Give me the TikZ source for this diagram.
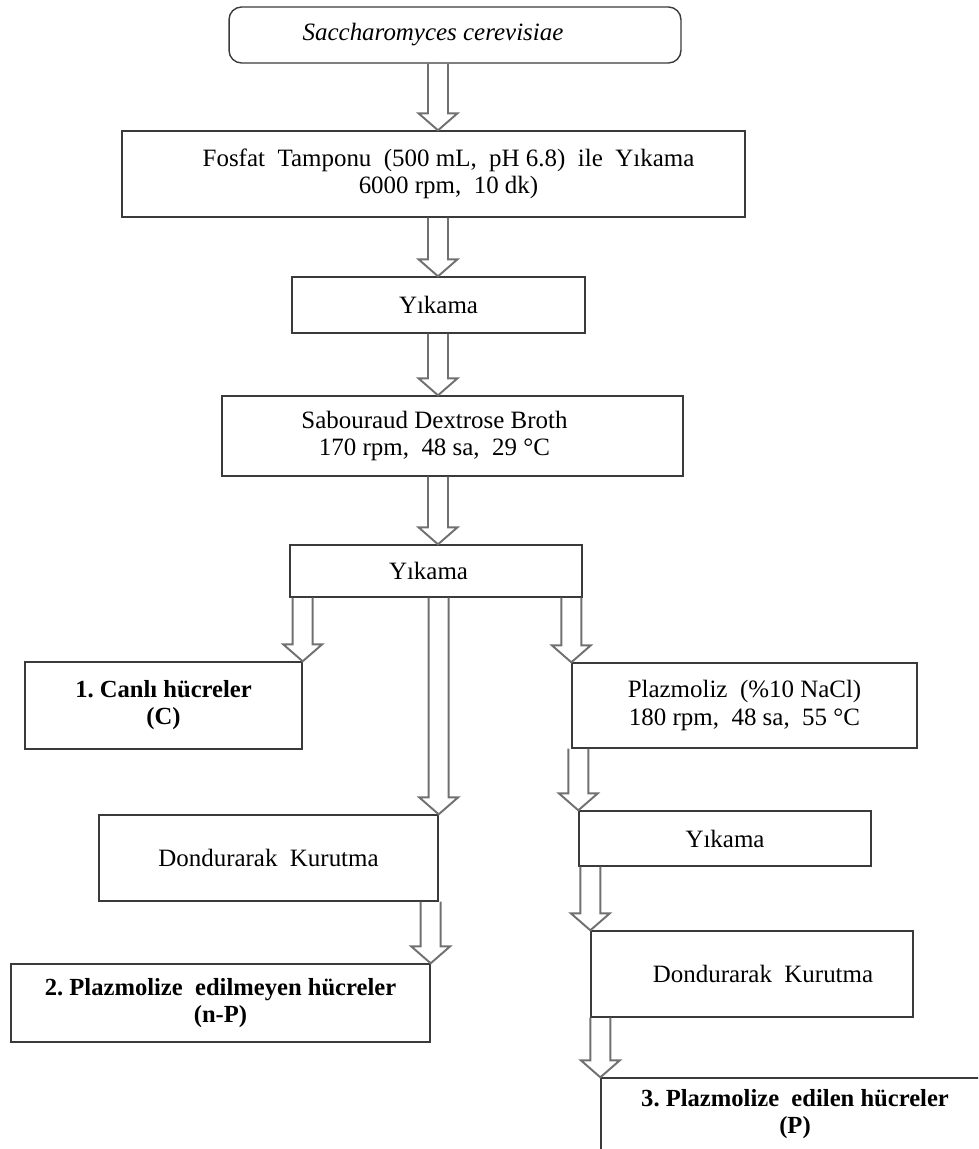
\documentclass[tikz,border=0pt]{standalone}
\usepackage{fontspec}
\setmainfont{Liberation Serif}
\usetikzlibrary{calc}
\definecolor{boxline}{HTML}{3A3A3A}
\definecolor{arrowline}{HTML}{707070}
\frenchspacing

% hollow block arrow: #1 = where the shaft starts, #2 = tip
\newcommand{\hollowarrow}[2]{%
  \draw[hollow] let \p1=(#1), \p2=(#2) in
    (\x2-0.2cm,\y1) -- (\x2-0.2cm,\y2+0.34cm) -- (\x2-0.39cm,\y2+0.34cm) -- (\x2,\y2)
    -- (\x2+0.39cm,\y2+0.34cm) -- (\x2+0.2cm,\y2+0.34cm) -- (\x2+0.2cm,\y1);}

\begin{document}
\begin{tikzpicture}[x=0.02cm,y=-0.02cm,
  box/.style={draw=boxline,line width=0.8pt,align=center,inner sep=0pt,
    font=\fontsize{14.2}{15.4}\selectfont},
  boldbox/.style={box,font=\fontsize{14}{15.4}\selectfont\bfseries},
  hollow/.style={draw=arrowline,line width=1.1pt,line join=miter}]
\clip (0,0) rectangle (978,1149);
\coordinate (axis) at (438,0);

\node[box,rounded corners=0.25cm,minimum width=9.04cm,minimum height=1.12cm] (sacch) at (455,35) {\itshape Saccharomyces cerevisiae\hspace*{0.88cm}};
\node[box,minimum width=12.46cm,minimum height=1.72cm] (fosfat) at (433.5,174) {\hspace*{0.6cm}Fosfat\ \ Tamponu\ \ (500 mL,\ \ pH 6.8)\ \ ile\ \ Yıkama\\\hspace*{0.6cm}6000 rpm,\ \ 10 dk)};
\node[box,minimum width=5.86cm,minimum height=1.12cm] (yik1) at (438.5,305) {Yıkama};
\node[box,minimum width=9.22cm,minimum height=1.6cm] (sab) at (452.5,436) {Sabouraud Dextrose Broth\hspace*{0.72cm}\\170 rpm,\ \ 48 sa,\ \ 29 °C\hspace*{0.72cm}};
\node[box,minimum width=5.84cm,minimum height=1.04cm] (yik2) at (436,571) {Yıkama\hspace*{0.3cm}};

\node[boldbox,minimum width=5.54cm,minimum height=1.74cm] (canli) at (163.5,705.5) {1. Canlı hücreler\\(C)};
\node[box,minimum width=6.9cm,minimum height=1.7cm] (plaz) at (744.5,705.5) {Plazmoliz\ \ (\%10 NaCl)\\180 rpm,\ \ 48 sa,\ \ 55 °C};
\node[box,minimum width=6.78cm,minimum height=1.72cm] (kur1) at (268.5,858) {Dondurarak\ \ Kurutma};
\node[box,minimum width=5.84cm,minimum height=1.1cm] (yik3) at (725,838.5) {Yıkama};
\node[box,minimum width=6.44cm,minimum height=1.72cm] (kur2) at (752,974) {\hspace*{0.44cm}Dondurarak\ \ Kurutma};
\node[boldbox,minimum width=8.38cm,minimum height=1.56cm] (np) at (220.5,1003) {2. Plazmolize\ \ edilmeyen hücreler\\(n-P)};
\node[boldbox,minimum width=7.76cm,minimum height=1.44cm] (pbox) at (795,1114) {3. Plazmolize\ \ edilen hücreler\\(P)};

\hollowarrow{sacch.south}{fosfat.north -| axis}
\hollowarrow{fosfat.south}{yik1.north -| axis}
\hollowarrow{yik1.south}{sab.north -| axis}
\hollowarrow{sab.south}{yik2.north -| axis}
\hollowarrow{yik2.south}{canli.north east}
\hollowarrow{yik2.south}{kur1.north east}
\hollowarrow{yik2.south}{plaz.north west}
\hollowarrow{plaz.south}{yik3.north west}
\hollowarrow{yik3.south}{kur2.north west}
\hollowarrow{kur1.south}{np.north east}
\hollowarrow{kur2.south}{pbox.north west}
\end{tikzpicture}
\end{document}
